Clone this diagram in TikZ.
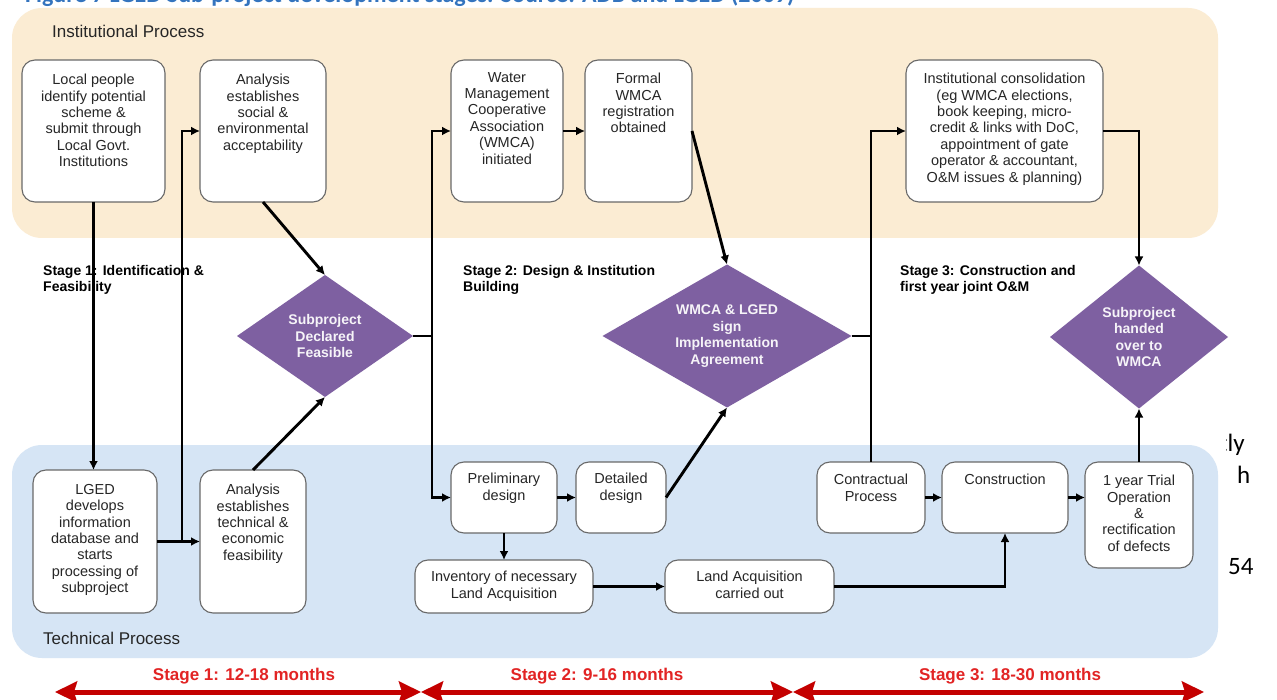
\documentclass[tikz,border=0pt]{standalone}
\usepackage{fontspec}
\setmainfont{Liberation Sans}
\newfontfamily\capfont{Carlito}
\usetikzlibrary{shapes.geometric,arrows.meta}

\definecolor{instband}{RGB}{251,236,211}
\definecolor{techband}{RGB}{214,229,245}
\definecolor{dpurple}{RGB}{126,96,161}
\definecolor{boxline}{RGB}{105,105,105}
\definecolor{stagered}{RGB}{226,36,36}
\definecolor{arrowred}{RGB}{196,0,0}
\definecolor{capblue}{RGB}{52,116,190}

% process box: name, x1, y1, x2, y2, top padding, text
\newcommand\procbox[7]{%
  \node[pbox, minimum width={(#4-#2)*1pt}, minimum height={(#5-#3)*1pt}]
    (#1) at ({(#2+#4)/2},{(#3+#5)/2}) {};
  \node[ptext, anchor=north] at ([yshift=-#6pt]#1.north) {#7};}

\tikzset{
  pbox/.style={draw=boxline, line width=1.1pt, fill=white,
    rounded corners=13pt, inner sep=0pt, outer sep=0pt},
  ptext/.style={font=\fontsize{14.5}{16.4}\selectfont, align=center,
    inner sep=0pt, text=black!85},
  dia/.style={diamond, fill=dpurple, inner sep=0pt, outer sep=0pt,
    text=white!93!dpurple, align=center,
    font=\bfseries\fontsize{14}{16.5}\selectfont},
  conn/.style={draw=black, line width=2.9pt},
  arr/.style={conn, -{Latex[length=9pt,width=9pt]}},
  stagehead/.style={anchor=north west, align=left, inner sep=0pt,
    font=\bfseries\fontsize{14}{16.4}\selectfont},
  bandlab/.style={anchor=north west, inner sep=0pt, text=black!85,
    font=\fontsize{17}{20}\selectfont},
  stagelab/.style={text=stagered, inner sep=0pt,
    font=\bfseries\fontsize{17}{20}\selectfont},
  redarr/.style={draw=arrowred, line width=5pt,
    {Stealth[length=22pt,width=21pt,inset=3pt]}-{Stealth[length=22pt,width=21pt,inset=3pt]}},
  bodytext/.style={anchor=base west, inner sep=0pt,
    font=\capfont\fontsize{25}{30}\selectfont},
}

\begin{document}
\begin{tikzpicture}[x=1pt, y=-1pt]
\useasboundingbox (0,0) rectangle (1277,700);
\fill[white] (0,0) rectangle (1277,700);

% caption line of the page, cut by the top edge
\node[anchor=base west, inner sep=0pt, text=capblue,
  font=\capfont\bfseries\fontsize{24}{28}\selectfont] (caption) at (25,3)
  {Figure 7 LGED Sub-project development stages. Source: ADB and LGED (2009)};

% body text of the page beside the figure
\begin{scope}
  \clip (1226,420) rectangle (1277,600);
  \node[bodytext] (bt1) at (1219,451) {tly};
  \node[bodytext] (bt2) at (1237,483) {h};
  \node[bodytext] (bt3) at (1228,574) {54};
\end{scope}

% the two process bands
\fill[instband] (12,8) [rounded corners=30pt] rectangle (1218,238);
\fill[techband] (12,445) [rounded corners=30pt] rectangle (1218,658);
\node[bandlab] (instlab) at (52,25) {Institutional Process};
\node[bandlab] (techlab) at (43,632) {Technical Process};

% stage headings
\node[stagehead] (st1) at (43,265) {Stage 1: Identification \&\\Feasibility};
\node[stagehead] (st2) at (463,265) {Stage 2: Design \& Institution\\Building};
\node[stagehead] (st3) at (900,265) {Stage 3: Construction and\\first year joint O\&M};

% institutional boxes
\procbox{lp}{22}{60}{165}{202}{14}{Local people\\identify potential\\scheme \&\\submit through\\Local Govt.\\Institutions}
\procbox{aS}{200}{60}{326}{202}{14}{Analysis\\establishes\\social \&\\environmental\\acceptability}
\procbox{wm}{451}{60}{563}{202}{12}{Water\\Management\\Cooperative\\Association\\(WMCA)\\initiated}
\procbox{fo}{585}{60}{692}{202}{13}{Formal\\WMCA\\registration\\obtained}
\procbox{ic}{906}{60}{1103}{202}{13}{Institutional consolidation\\(eg WMCA elections,\\book keeping, micro-\\credit \& links with DoC,\\appointment of gate\\operator \& accountant,\\O\&M issues \& planning)}

% technical boxes
\procbox{lg}{33}{470}{157}{613}{14}{LGED\\develops\\information\\database and\\starts\\processing of\\subproject}
\procbox{aT}{200}{470}{306}{613}{14}{Analysis\\establishes\\technical \&\\economic\\feasibility}
\procbox{pd}{451}{462}{557}{533}{11}{Preliminary\\design}
\procbox{dd}{576}{462}{666}{533}{11}{Detailed\\design}
\procbox{inv}{415}{560}{593}{613}{11}{Inventory of necessary\\Land Acquisition}
\procbox{la}{665}{560}{834}{613}{11}{Land Acquisition\\carried out}
\procbox{cp}{817}{462}{925}{533}{12}{Contractual\\Process}
\procbox{cn}{942}{462}{1068}{533}{12}{Construction}
\procbox{tr}{1085}{462}{1193}{568}{13}{1 year Trial\\Operation\\\&\\rectification\\of defects}

% decision diamonds
\node[dia, aspect=1.44, minimum width=176pt, minimum height=122pt] (d1) at (325,336)
  {Subproject\\Declared\\Feasible};
\node[dia, aspect=1.74, minimum width=249pt, minimum height=143pt] (d2) at (727,336)
  {WMCA \& LGED\\sign\\Implementation\\Agreement};
\node[dia, aspect=1.24, minimum width=178pt, minimum height=143pt] (d3) at (1139,337)
  {Subproject\\handed\\over to\\WMCA};

% junction points
\coordinate (j0) at (182,541.5);
\coordinate (j1) at (432,336);
\coordinate (j2) at (871,336);

% stage 1 flow
\draw[arr] (lp.south) -- (lp.south |- lg.north);
\draw[arr] (lg.east) -- (aT.west);
\draw[arr] (j0) |- (aS.west);
\draw[arr] (aS.south) -- (d1.north);
\draw[arr] (aT.north) -- (d1.south);

% stage 2 flow
\draw[conn] (d1.east) -- (j1);
\draw[arr] (j1) |- (wm.west);
\draw[arr] (j1) |- (pd.west);
\draw[arr] (wm.east) -- (fo.west);
\draw[arr] (fo.east) -- (d2.north);
\draw[arr] (pd.east) -- (dd.west);
\draw[arr] (dd.east) -- (d2.south);
\draw[arr] (pd.south) -- (inv.north);
\draw[arr] (inv.east) -- (la.west);

% stage 3 flow
\draw[conn] (d2.east) -- (j2);
\draw[arr] (j2) |- (ic.west);
\draw[conn] (j2) -- (j2 |- cp.north);
\draw[arr] (cp.east) -- (cn.west);
\draw[arr] (cn.east) -- (cn.east -| tr.west);
\draw[arr] (la.east) -| (cn.south);
\draw[arr] (tr.north) -- (d3.south);
\draw[arr] (ic.east) -| (d3.north);

% stage durations
\coordinate (s0) at (55,692);
\coordinate (s1) at (421,692);
\coordinate (s2) at (793,692);
\coordinate (s3) at (1204,692);
\draw[redarr] (s0) -- (s1);
\draw[redarr] (s1) -- (s2);
\draw[redarr] (s2) -- (s3);
\node[stagelab] (dur1) at (244,676) {Stage 1: 12-18 months};
\node[stagelab] (dur2) at (597,676) {Stage 2: 9-16 months};
\node[stagelab] (dur3) at (1010,676) {Stage 3: 18-30 months};
\end{tikzpicture}
\end{document}
